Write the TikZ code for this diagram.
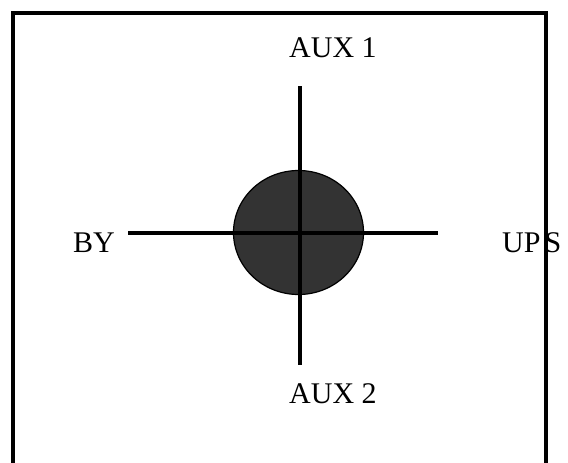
\documentclass[tikz,border=0pt]{standalone}
\usepackage{fontspec}
\setmainfont{Liberation Serif}
\usetikzlibrary{shapes.geometric}
\definecolor{hubgray}{RGB}{51,51,51}
\begin{document}
\begin{tikzpicture}[
    x=1pt, y=-1pt,
    label_node/.style={anchor=base west, inner sep=0pt, font=\fontsize{30}{36}\selectfont},
    hub_node/.style={ellipse, draw, fill=hubgray, line width=1.2pt, minimum width=130pt, minimum height=124pt, inner sep=0pt},
    bar/.style={line width=4pt}
]
    \useasboundingbox (0,0) rectangle (568,463);
    \node[label_node] (aux1) at (289,57) {AUX 1};
    \node[label_node] (aux2) at (289,403) {AUX 2};
    \node[label_node] (by) at (73,252) {BY};
    \node[label_node] (ups) at (502,252) {UP\kern4pt S};
    \draw[bar] (13,475) -- (13,13) -- (546,13) -- (546,475);
    \node[hub_node] (hub) at (298.5,232.5) {};
    \coordinate (west end) at (128,233);
    \coordinate (east end) at (438,233);
    \coordinate (north end) at (300,86);
    \coordinate (south end) at (300,365);
    \draw[bar] (west end) -- (east end);
    \draw[bar] (north end) -- (south end);
\end{tikzpicture}
\end{document}
